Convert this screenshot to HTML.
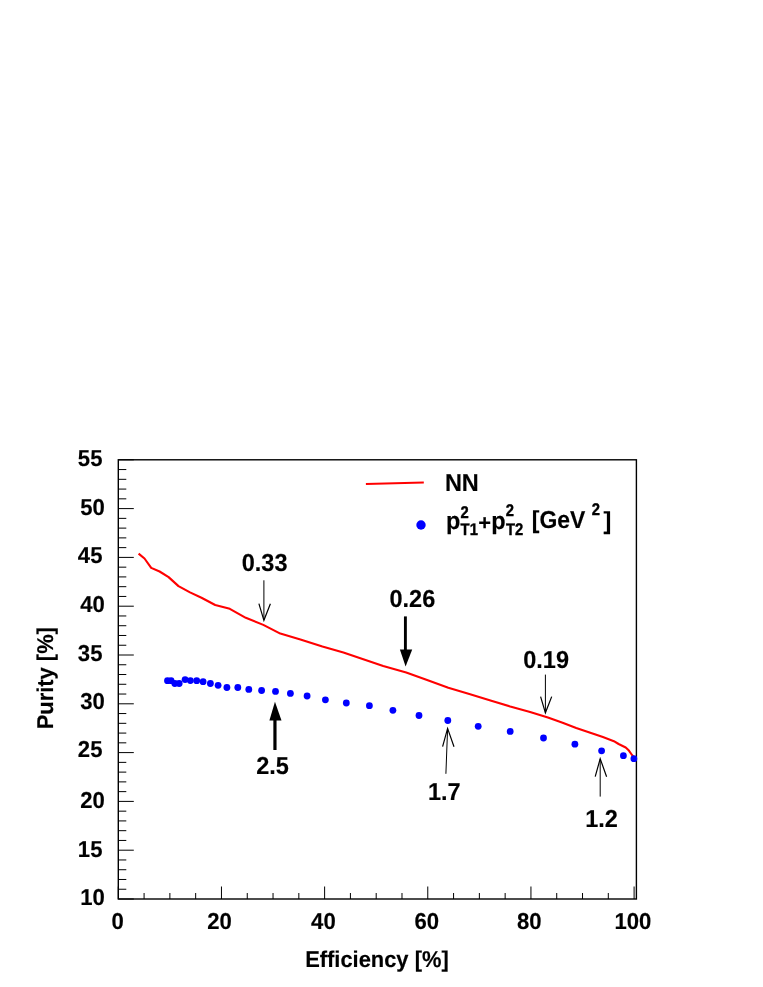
<!DOCTYPE html>
<html><head><meta charset="utf-8"><title>Purity vs Efficiency</title>
<style>
html,body{margin:0;padding:0;background:#fff;}
body{width:763px;height:987px;overflow:hidden;}
svg{display:block;will-change:transform;}
text{text-rendering:geometricPrecision;font-family:"Liberation Sans",sans-serif;font-weight:bold;fill:#000;stroke:#000;stroke-width:0.15px;stroke-linejoin:round;}
.ax{font-size:22.1px;}
.an{font-size:23.5px;}
.ss{font-size:16.9px;stroke-width:0.4px;}
.ti{font-size:21.9px;}
</style></head><body>
<svg width="763" height="987" viewBox="0 0 763 987">
<rect x="0" y="0" width="763" height="987" fill="#fff"/>
<rect x="118.3" y="459.8" width="518.1" height="439.2" fill="none" stroke="#000" stroke-width="1.4"/>
<path d="M118.3 899.00h15.5M118.3 889.24h8.0M118.3 879.48h8.0M118.3 869.72h8.0M118.3 859.96h8.0M118.3 850.20h15.5M118.3 840.44h8.0M118.3 830.68h8.0M118.3 820.92h8.0M118.3 811.16h8.0M118.3 801.40h15.5M118.3 791.64h8.0M118.3 781.88h8.0M118.3 772.12h8.0M118.3 762.36h8.0M118.3 752.60h15.5M118.3 742.84h8.0M118.3 733.08h8.0M118.3 723.32h8.0M118.3 713.56h8.0M118.3 703.80h15.5M118.3 694.04h8.0M118.3 684.28h8.0M118.3 674.52h8.0M118.3 664.76h8.0M118.3 655.00h15.5M118.3 645.24h8.0M118.3 635.48h8.0M118.3 625.72h8.0M118.3 615.96h8.0M118.3 606.20h15.5M118.3 596.44h8.0M118.3 586.68h8.0M118.3 576.92h8.0M118.3 567.16h8.0M118.3 557.40h15.5M118.3 547.64h8.0M118.3 537.88h8.0M118.3 528.12h8.0M118.3 518.36h8.0M118.3 508.60h15.5M118.3 498.84h8.0M118.3 489.08h8.0M118.3 479.32h8.0M118.3 469.56h8.0M118.3 459.80h15.5" stroke="#000" stroke-width="1.0" fill="none"/>
<path d="M118.30 899.0v-12.5M144.09 899.0v-6.0M169.88 899.0v-6.0M195.67 899.0v-6.0M221.46 899.0v-12.5M247.25 899.0v-6.0M273.04 899.0v-6.0M298.83 899.0v-6.0M324.62 899.0v-12.5M350.41 899.0v-6.0M376.20 899.0v-6.0M401.99 899.0v-6.0M427.78 899.0v-12.5M453.57 899.0v-6.0M479.36 899.0v-6.0M505.15 899.0v-6.0M530.94 899.0v-12.5M556.73 899.0v-6.0M582.52 899.0v-6.0M608.31 899.0v-6.0M634.10 899.0v-12.5" stroke="#000" stroke-width="1.0" fill="none"/>
<text class="ax" transform="translate(104.85 905.40) scale(1 1.042)" text-anchor="end">10</text>
<text class="ax" transform="translate(102.45 856.80) scale(1 1.042)" text-anchor="end">15</text>
<text class="ax" transform="translate(104.85 807.70) scale(1 1.042)" text-anchor="end">20</text>
<text class="ax" transform="translate(102.45 757.20) scale(1 1.042)" text-anchor="end">25</text>
<text class="ax" transform="translate(104.85 709.00) scale(1 1.042)" text-anchor="end">30</text>
<text class="ax" transform="translate(102.45 660.50) scale(1 1.042)" text-anchor="end">35</text>
<text class="ax" transform="translate(104.85 611.80) scale(1 1.042)" text-anchor="end">40</text>
<text class="ax" transform="translate(102.45 563.00) scale(1 1.042)" text-anchor="end">45</text>
<text class="ax" transform="translate(104.85 514.50) scale(1 1.042)" text-anchor="end">50</text>
<text class="ax" transform="translate(102.45 465.90) scale(1 1.042)" text-anchor="end">55</text>
<text class="ax" transform="translate(117.60 929.10) scale(1 1.042)" text-anchor="middle">0</text>
<text class="ax" transform="translate(219.50 929.10) scale(1 1.042)" text-anchor="middle">20</text>
<text class="ax" transform="translate(323.40 929.10) scale(1 1.042)" text-anchor="middle">40</text>
<text class="ax" transform="translate(426.80 929.10) scale(1 1.042)" text-anchor="middle">60</text>
<text class="ax" transform="translate(529.20 929.10) scale(1 1.042)" text-anchor="middle">80</text>
<text class="ax" transform="translate(632.90 929.10) scale(1 1.042)" text-anchor="middle">100</text>
<text class="ti" transform="translate(376.90 966.50) scale(1 1.042)" text-anchor="middle">Efficiency [%]</text>
<text class="ti" transform="translate(53.30 678.20) rotate(-90) scale(1 1.042)" text-anchor="middle">Purity [%]</text>
<polyline points="138.6,553.6 144.5,558.5 151.2,567.9 159.6,571.5 168.6,577.1 178.5,586.1 190.0,592.4 201.5,597.7 215.2,605.0 229.8,608.8 245.8,617.8 263.3,624.9 280.3,633.6 300.4,639.4 322.4,646.5 343.4,652.4 363.3,659.3 383.2,666.0 406.2,672.5 426.4,679.8 448.3,687.8 469.3,693.9 491.3,700.8 510.2,706.5 530.1,711.9 547.9,717.6 562.6,722.8 576.2,728.0 590.3,732.7 602.9,737.1 613.9,741.2 618.6,744.0 625.7,747.5 628.9,750.6 632.0,755.0 634.1,757.4" fill="none" stroke="#ff0000" stroke-width="2.1" stroke-linejoin="round"/>
<g fill="#0000ff"><circle cx="167.5" cy="680.7" r="3.4"/><circle cx="171.1" cy="680.7" r="3.4"/><circle cx="174.8" cy="683.5" r="3.4"/><circle cx="179.2" cy="683.5" r="3.4"/><circle cx="185.1" cy="679.6" r="3.4"/><circle cx="190.4" cy="680.6" r="3.4"/><circle cx="196.7" cy="680.7" r="3.4"/><circle cx="203.1" cy="681.7" r="3.4"/><circle cx="210.4" cy="683.5" r="3.4"/><circle cx="218.1" cy="685.3" r="3.4"/><circle cx="226.9" cy="687.5" r="3.4"/><circle cx="237.8" cy="687.5" r="3.4"/><circle cx="248.8" cy="689.4" r="3.4"/><circle cx="261.6" cy="690.5" r="3.4"/><circle cx="275.5" cy="691.4" r="3.4"/><circle cx="290.4" cy="693.4" r="3.4"/><circle cx="307.1" cy="696.0" r="3.4"/><circle cx="325.4" cy="699.8" r="3.4"/><circle cx="346.3" cy="703.0" r="3.4"/><circle cx="369.4" cy="705.7" r="3.4"/><circle cx="392.9" cy="710.3" r="3.4"/><circle cx="419.0" cy="715.5" r="3.4"/><circle cx="447.8" cy="720.5" r="3.4"/><circle cx="478.2" cy="726.3" r="3.4"/><circle cx="510.2" cy="731.4" r="3.4"/><circle cx="543.5" cy="738.0" r="3.4"/><circle cx="574.9" cy="744.2" r="3.4"/><circle cx="601.6" cy="750.8" r="3.4"/><circle cx="623.4" cy="755.7" r="3.4"/><circle cx="633.9" cy="758.7" r="3.4"/></g>
<line x1="365.9" y1="484.1" x2="423.8" y2="482.4" stroke="#ff0000" stroke-width="2.0"/>
<circle cx="421.0" cy="525.0" r="4.7" fill="#0000ff"/>
<text class="an" transform="translate(444.90 491.30) scale(1 1.042)">NN</text>
<text class="an" transform="translate(446.00 528.60) scale(1 1.042)">p</text>
<text class="ss" transform="translate(460.40 517.90) scale(0.876 1)">2</text>
<text class="ss" transform="translate(460.60 535.40) scale(0.876 1)">T1</text>
<text class="an" transform="translate(478.30 530.20) scale(0.93 0.93)">+</text>
<text class="an" transform="translate(491.30 528.60) scale(1 1.042)">p</text>
<text class="ss" transform="translate(505.70 516.30) scale(0.876 1)">2</text>
<text class="ss" transform="translate(505.90 535.40) scale(0.876 1)">T2</text>
<text class="an" transform="translate(531.80 528.40) scale(0.976 1.042)">[GeV</text>
<text class="ss" transform="translate(591.70 514.90) scale(0.876 1)">2</text>
<text class="an" transform="translate(603.60 528.60) scale(1 1.042)">]</text>
<text class="an" transform="translate(264.60 571.00) scale(1 1.042)" text-anchor="middle">0.33</text>
<text class="an" transform="translate(412.40 606.70) scale(1 1.042)" text-anchor="middle">0.26</text>
<text class="an" transform="translate(546.10 668.40) scale(1 1.042)" text-anchor="middle">0.19</text>
<text class="an" transform="translate(272.50 773.70) scale(1 1.042)" text-anchor="middle">2.5</text>
<text class="an" transform="translate(444.30 799.80) scale(1 1.042)" text-anchor="middle">1.7</text>
<text class="an" transform="translate(601.50 827.30) scale(1 1.042)" text-anchor="middle">1.2</text>
<g fill="none" stroke="#000"><path stroke-width="1.0" d="M263.9 580.3V619.5M545.4 674.6V712.5M445.9 773.8L447.6 728.8M600.2 796.6V759"/><path stroke-width="1.2" d="M258.9 603.7L263.9 620.3L270.4 603.7M540.6 696.6L545.4 712.8L551.7 696.6M442.6 746.7L447.6 728.4L454.0 746.7M595.2 776.7L600.2 758.7L606.6 776.7"/></g>
<path d="M405.4 616.4V652" stroke="#000" stroke-width="2.9" fill="none"/><path d="M399.9 649.5H412.2L405.6 666.5Z" fill="#000"/>
<path d="M274.95 750V717" stroke="#000" stroke-width="3.2" fill="none"/><path d="M269.4 720.4H281.5L274.95 701.8Z" fill="#000"/>
</svg></body></html>
